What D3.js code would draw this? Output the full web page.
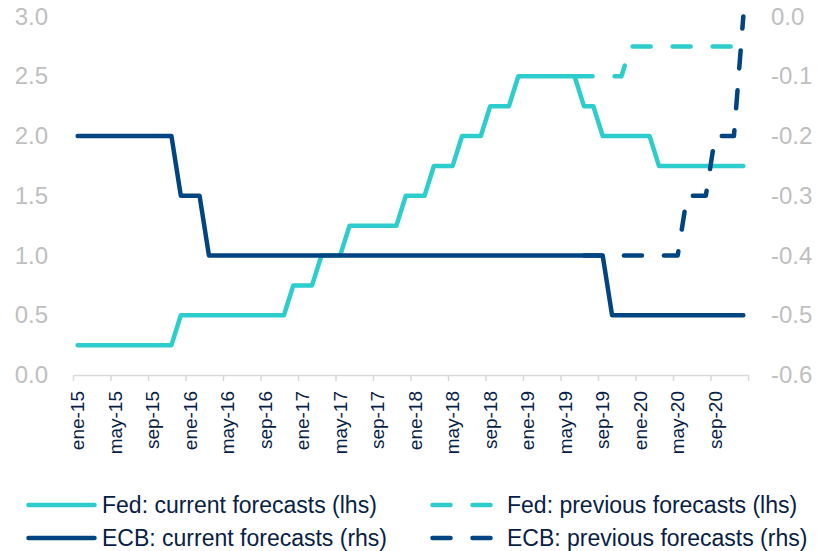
<!DOCTYPE html>
<html>
<head>
<meta charset="utf-8">
<script src="https://cdn.jsdelivr.net/npm/d3@7"></script>
<style>
    body { margin: 0; background: #fff; }
    svg { display: block; font-family: "Liberation Sans", Arial, sans-serif; }
</style>
</head>
<body>
<svg id="chart"></svg>
<script>
// Months on the axis: ene-15 .. dic-20 (72 monthly points)
var monthNames = ["ene", "feb", "mar", "abr", "may", "jun", "jul", "ago", "sep", "oct", "nov", "dic"];
var years = ["15", "16", "17", "18", "19", "20"];
var labelEvery = 4;

// Fed: current forecasts (lhs), one value per month from ene-15
var fedCurrent = [
    0.25, 0.25, 0.25, 0.25, 0.25, 0.25, 0.25, 0.25, 0.25, 0.25, 0.25, 0.5,
    0.5, 0.5, 0.5, 0.5, 0.5, 0.5, 0.5, 0.5, 0.5, 0.5, 0.5, 0.75,
    0.75, 0.75, 1.0, 1.0, 1.0, 1.25, 1.25, 1.25, 1.25, 1.25, 1.25, 1.5,
    1.5, 1.5, 1.75, 1.75, 1.75, 2.0, 2.0, 2.0, 2.25, 2.25, 2.25, 2.5,
    2.5, 2.5, 2.5, 2.5, 2.5, 2.5, 2.25, 2.25, 2.0, 2.0, 2.0, 2.0,
    2.0, 2.0, 1.75, 1.75, 1.75, 1.75, 1.75, 1.75, 1.75, 1.75, 1.75, 1.75
];

// Fed: previous forecasts (lhs), from jun-19
var fedPreviousStart = 53;
var fedPrevious = [2.5, 2.5, 2.5, 2.5, 2.5, 2.5, 2.75, 2.75, 2.75, 2.75, 2.75, 2.75, 2.75, 2.75, 2.75, 2.75, 2.75, 2.75, 2.75];

// ECB: current forecasts (rhs), from ene-15
var ecbCurrent = [
    -0.2, -0.2, -0.2, -0.2, -0.2, -0.2, -0.2, -0.2, -0.2, -0.2, -0.2, -0.3,
    -0.3, -0.3, -0.4, -0.4, -0.4, -0.4, -0.4, -0.4, -0.4, -0.4, -0.4, -0.4,
    -0.4, -0.4, -0.4, -0.4, -0.4, -0.4, -0.4, -0.4, -0.4, -0.4, -0.4, -0.4,
    -0.4, -0.4, -0.4, -0.4, -0.4, -0.4, -0.4, -0.4, -0.4, -0.4, -0.4, -0.4,
    -0.4, -0.4, -0.4, -0.4, -0.4, -0.4, -0.4, -0.4, -0.4, -0.5, -0.5, -0.5,
    -0.5, -0.5, -0.5, -0.5, -0.5, -0.5, -0.5, -0.5, -0.5, -0.5, -0.5, -0.5
];

// ECB: previous forecasts (rhs), from jul-19
var ecbPreviousStart = 54;
var ecbPrevious = [-0.4, -0.4, -0.4, -0.4, -0.4, -0.4, -0.4, -0.4, -0.4, -0.4, -0.4, -0.3, -0.3, -0.3, -0.2, -0.2, -0.2, 0.0];

var leftTicks = [0, 0.5, 1.0, 1.5, 2.0, 2.5, 3.0];
var rightTicks = [-0.6, -0.5, -0.4, -0.3, -0.2, -0.1, 0.0];

var seriesNames = [
    "Fed: current forecasts (lhs)",
    "Fed: previous forecasts (lhs)",
    "ECB: current forecasts (rhs)",
    "ECB: previous forecasts (rhs)"
];

// Variables
var width = 817;
var height = 551;
var aqua = "#2dcccd";
var blue = "#004481";
var navy = "#072146";
var grey = "#bfbfbf";
var dash = "18,22";

var monthLabels = [];
years.forEach(function (y) {
    monthNames.forEach(function (m) { monthLabels.push(m + "-" + y); });
});

var svg = d3.select("#chart")
    .attr("width", width)
    .attr("height", height);

// Scales: one slot per month, left axis in %, right axis in %
var x = d3.scaleLinear().domain([0, monthLabels.length]).range([73, 748]);
var yLeft = d3.scaleLinear().domain([0, 3]).range([375, 16.5]);
var yRight = d3.scaleLinear().domain([-0.6, 0]).range([375, 16.5]);

// X axis with ticks at slot edges
var xAxis = svg.append("g")
    .attr("transform", "translate(0,375)")
    .call(d3.axisBottom(x)
        .tickValues(d3.range(0, monthLabels.length + 1, labelEvery))
        .tickFormat("")
        .tickSizeOuter(0)
        .tickSizeInner(6));
xAxis.selectAll("path, line").attr("stroke", "#d9d9d9").attr("stroke-width", 1.5);

// Rotated month labels, centred on the slot
svg.append("g").selectAll("text")
    .data(monthLabels.filter(function (d, i) { return i % labelEvery === 0; }))
    .enter().append("text")
    .attr("transform", function (d, i) { return "translate(" + x(i * labelEvery + 0.5) + ",391) rotate(-90)"; })
    .attr("text-anchor", "end")
    .attr("dominant-baseline", "central")
    .attr("fill", navy)
    .style("font-size", "19px")
    .text(function (d) { return d; });

// Value axes, labels only
var fmt = function (d) { return d.toFixed(1); };
var left = svg.append("g")
    .attr("transform", "translate(48,0)")
    .call(d3.axisLeft(yLeft).tickValues(leftTicks).tickFormat(fmt).tickSize(0).tickPadding(0));
var right = svg.append("g")
    .attr("transform", "translate(771,0)")
    .call(d3.axisRight(yRight).tickValues(rightTicks).tickFormat(fmt).tickSize(0).tickPadding(0));
[left, right].forEach(function (a) {
    a.select(".domain").remove();
    a.selectAll("text").attr("fill", grey).style("font-size", "24px").style("font-family", "inherit");
});

// Lines
function lineFor(scale, start) {
    return d3.line()
        .x(function (d, i) { return x(start + i + 0.5); })
        .y(function (d) { return scale(d); });
}

var series = [
    { values: fedCurrent, start: 0, scale: yLeft, color: aqua, dashed: false },
    { values: fedPrevious, start: fedPreviousStart, scale: yLeft, color: aqua, dashed: true },
    { values: ecbCurrent, start: 0, scale: yRight, color: blue, dashed: false },
    { values: ecbPrevious, start: ecbPreviousStart, scale: yRight, color: blue, dashed: true }
];

svg.append("g").selectAll("path")
    .data(series)
    .enter().append("path")
    .attr("d", function (s) { return lineFor(s.scale, s.start)(s.values); })
    .attr("fill", "none")
    .attr("stroke", function (s) { return s.color; })
    .attr("stroke-width", 4.5)
    .attr("stroke-linejoin", "round")
    .attr("stroke-linecap", "round")
    .attr("stroke-dasharray", function (s) { return s.dashed ? dash : null; });

// Legend: two columns, two rows
var legendItems = [
    { name: seriesNames[0], color: aqua, dashed: false, lx: 28.5, tx: 102, y: 513 },
    { name: seriesNames[1], color: aqua, dashed: true, lx: 432.5, tx: 507, y: 513 },
    { name: seriesNames[2], color: blue, dashed: false, lx: 28.5, tx: 102, y: 546 },
    { name: seriesNames[3], color: blue, dashed: true, lx: 432.5, tx: 507, y: 546 }
];

var legend = svg.append("g").selectAll("g")
    .data(legendItems)
    .enter().append("g");

legend.append("line")
    .attr("x1", function (d) { return d.lx; })
    .attr("x2", function (d) { return d.dashed ? d.lx + 58 : d.lx + 66; })
    .attr("y1", function (d) { return d.y - 8; })
    .attr("y2", function (d) { return d.y - 8; })
    .attr("stroke", function (d) { return d.color; })
    .attr("stroke-width", 4.5)
    .attr("stroke-linecap", "round")
    .attr("stroke-dasharray", function (d) { return d.dashed ? dash : null; });

legend.append("text")
    .attr("x", function (d) { return d.tx; })
    .attr("y", function (d) { return d.y; })
    .attr("fill", navy)
    .style("font-size", "23px")
    .text(function (d) { return d.name; });
</script>
</body>
</html>
